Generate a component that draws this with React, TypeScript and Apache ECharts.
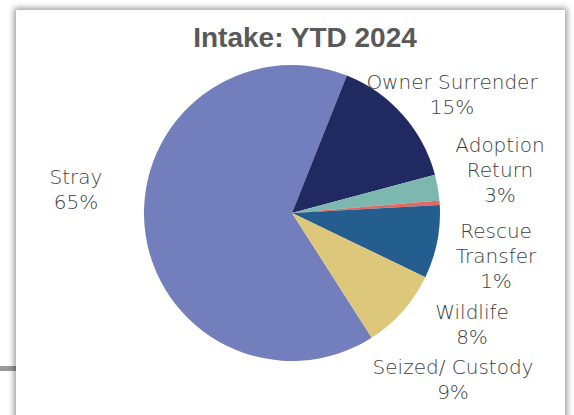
import React, { useEffect, useRef } from "react";
import * as echarts from "echarts";

const categories = ["Stray", "Owner Surrender", "Adoption\nReturn", "Rescue\nTransfer", "Wildlife", "Seized/ Custody"];
const shares = [65.1, 14.8, 2.8, 0.5, 8.0, 8.8];
const colors = ["#737FBC", "#212A60", "#7DB8B0", "#E06A63", "#245E8E", "#DCC77B"];
const titleText = "Intake: YTD 2024";

// label placement (layout only)
const labelPos: [number, number][] = [
  [76, 189],
  [452, 94],
  [500, 170],
  [496, 256],
  [472, 324],
  [453, 379],
];

export default function App() {
  const ref = useRef<HTMLDivElement>(null);
  useEffect(() => {
    if (!ref.current) return;
    const chart = echarts.init(ref.current, undefined, { renderer: "svg" });
    chart.setOption({
      animation: false,
      title: {
        text: titleText,
        left: 300,
        top: 18,
        textAlign: "center",
        textStyle: {
          fontFamily: "Liberation Sans",
          fontWeight: "bold",
          fontSize: 28,
          color: "#595959",
        },
      },
      series: [
        {
          type: "pie",
          center: [292, 213],
          radius: 148,
          startAngle: 302.6,
          clockwise: true,
          avoidLabelOverlap: false,
          label: {
            show: true,
            position: "outside",
            fontFamily: "DejaVu Sans",
            fontWeight: 300,
            fontSize: 20,
            lineHeight: 25,
            color: "#404040",
            align: "center",
            formatter: (p: any) => `${p.name}\n${Math.round(p.percent)}%`,
          },
          labelLine: { show: false },
          labelLayout: (p: any) => ({
            x: labelPos[p.dataIndex][0],
            y: labelPos[p.dataIndex][1],
            align: "center",
            verticalAlign: "middle",
          }),
          itemStyle: { borderWidth: 0 },
          emphasis: { disabled: true },
          data: categories.map((c, i) => ({
            name: c,
            value: shares[i],
            itemStyle: { color: colors[i] },
          })),
        },
      ],
    });
    return () => chart.dispose();
  }, []);

  return (
    <div style={{ position: "fixed", left: 0, top: 0, width: 574, height: 415, background: "#fff", overflow: "hidden" }}>
      <div style={{ position: "absolute", left: 0, top: 366, width: 16, height: 5, background: "#9a9a9a" }} />
      <div
        style={{
          position: "absolute",
          left: 16,
          top: 10,
          width: 549,
          height: 430,
          background: "#fff",
          boxShadow: "0 0 6px 2px rgba(0,0,0,0.4)",
        }}
      />
      <div ref={ref} style={{ position: "absolute", left: 0, top: 0, width: 574, height: 415 }} />
    </div>
  );
}
